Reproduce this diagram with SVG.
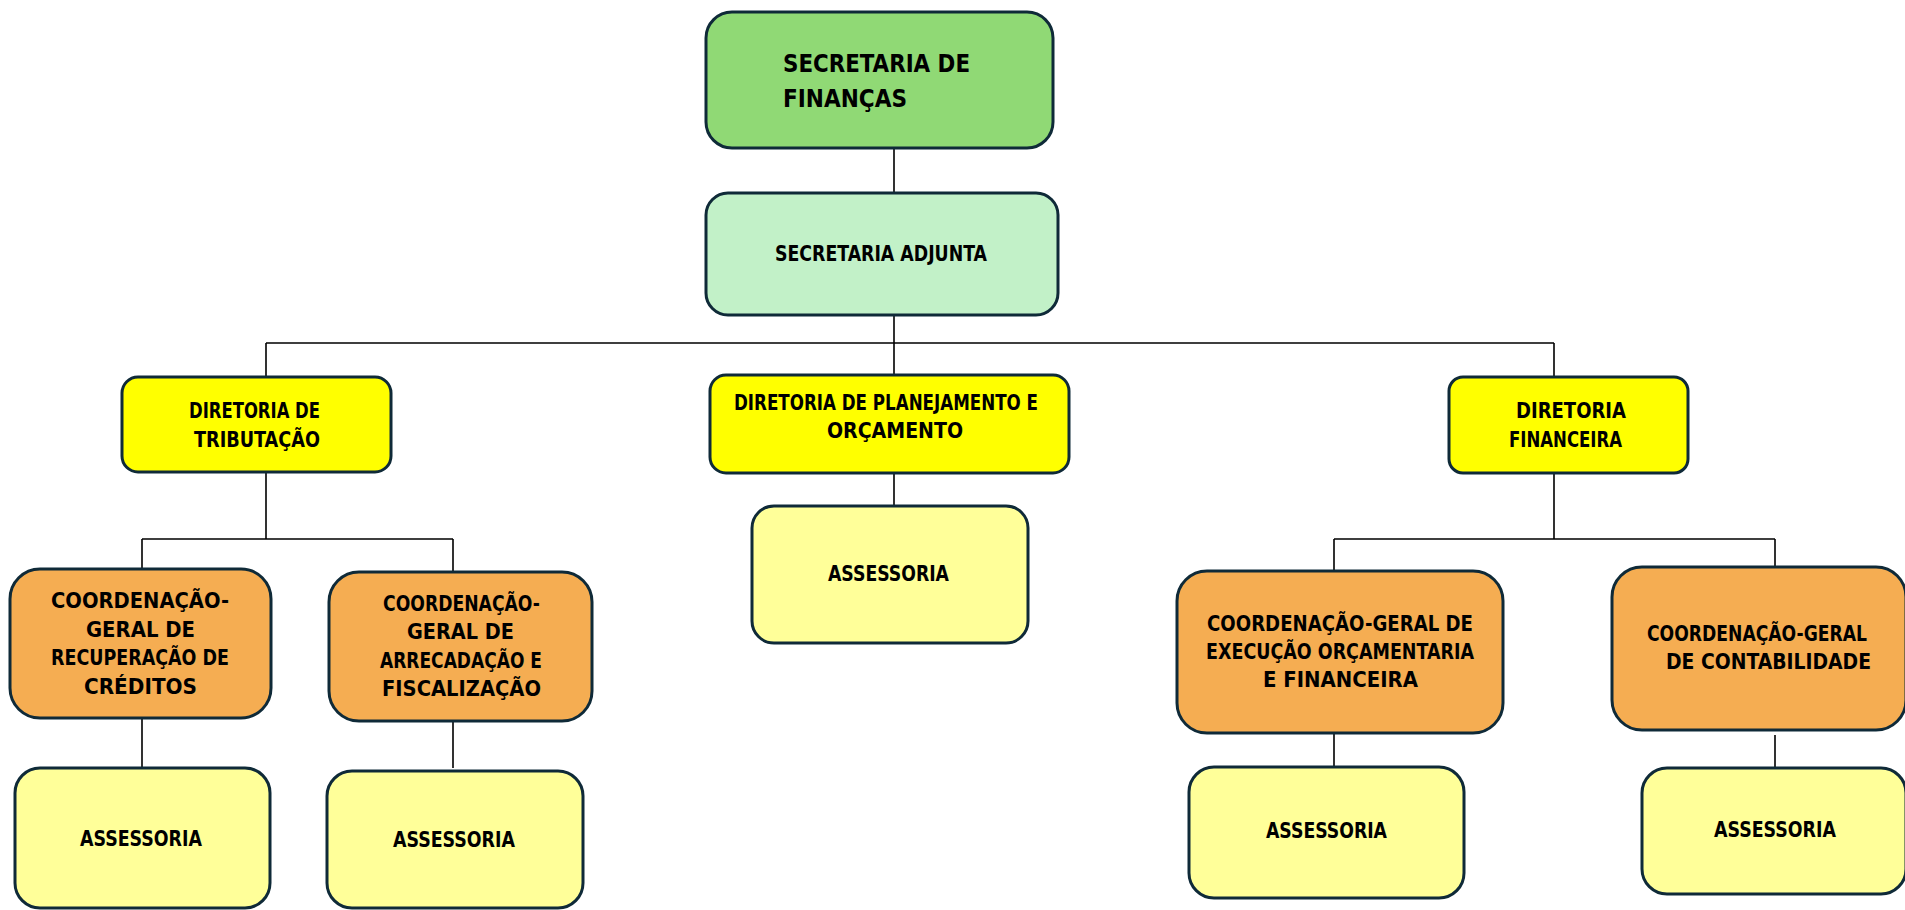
<svg xmlns="http://www.w3.org/2000/svg" width="1905" height="910" viewBox="0 0 1905 910">
<style>
.b{stroke:#0f2a38;stroke-width:3}
.g{fill:#90d975}.lg{fill:#c2f1c8}.y{fill:#ffff00}.o{fill:#f5ad52}.a{fill:#ffff99}
text{font-family:"DejaVu Sans Condensed","DejaVu Sans","Liberation Sans",sans-serif;font-weight:bold;font-size:22px;fill:#000}
.c{fill:none;stroke:#000;stroke-width:1.6}
</style>
<rect width="1905" height="910" fill="#fff"/>
<g id="connectors">
<path class="c" d="M894 148V193M894 315V375M266 343H1554M266 343V377M1554 343V377M266 472V539M142 539H453M142 539V569M453 539V572M142 718V768M453 721V768M894 473V506M1554 473V539M1334 539H1775M1334 539V571M1775 539V567M1334 733V767M1775 735V768"/>
</g>
<g id="secretaria-financas">
<rect class="b g" x="706" y="12" width="347" height="136" rx="26"/>
<text x="783" y="72" font-size="24" textLength="187" lengthAdjust="spacingAndGlyphs" style="font-size:24px">SECRETARIA DE</text>
<text x="783" y="107" textLength="124" lengthAdjust="spacingAndGlyphs" style="font-size:24px">FINANÇAS</text>
</g>
<g id="secretaria-adjunta">
<rect class="b lg" x="706" y="193" width="352" height="122" rx="22"/>
<text x="775" y="261" textLength="212" lengthAdjust="spacingAndGlyphs">SECRETARIA ADJUNTA</text>
</g>
<g id="diretoria-tributacao">
<rect class="b y" x="122" y="377" width="269" height="95" rx="16"/>
<text x="189" y="418" textLength="131" lengthAdjust="spacingAndGlyphs">DIRETORIA DE</text>
<text x="194" y="447" textLength="126" lengthAdjust="spacingAndGlyphs">TRIBUTAÇÃO</text>
</g>
<g id="diretoria-planejamento">
<rect class="b y" x="710" y="375" width="359" height="98" rx="16"/>
<text x="734" y="410" textLength="304" lengthAdjust="spacingAndGlyphs">DIRETORIA DE PLANEJAMENTO E</text>
<text x="827" y="438" textLength="136" lengthAdjust="spacingAndGlyphs">ORÇAMENTO</text>
</g>
<g id="diretoria-financeira">
<rect class="b y" x="1449" y="377" width="239" height="96" rx="14"/>
<text x="1516" y="418" textLength="110" lengthAdjust="spacingAndGlyphs">DIRETORIA</text>
<text x="1509" y="447" textLength="113" lengthAdjust="spacingAndGlyphs">FINANCEIRA</text>
</g>
<g id="assessoria-planejamento">
<rect class="b a" x="752" y="506" width="276" height="137" rx="22"/>
<text x="828" y="581" textLength="121" lengthAdjust="spacingAndGlyphs">ASSESSORIA</text>
</g>
<g id="cg-recuperacao">
<rect class="b o" x="10" y="569" width="261" height="149" rx="30"/>
<text x="51" y="608" textLength="178" lengthAdjust="spacingAndGlyphs">COORDENAÇÃO-</text>
<text x="86" y="637" textLength="109" lengthAdjust="spacingAndGlyphs">GERAL DE</text>
<text x="51" y="665" textLength="178" lengthAdjust="spacingAndGlyphs">RECUPERAÇÃO DE</text>
<text x="84" y="694" textLength="113" lengthAdjust="spacingAndGlyphs">CRÉDITOS</text>
</g>
<g id="cg-arrecadacao">
<rect class="b o" x="329" y="572" width="263" height="149" rx="30"/>
<text x="383" y="611" textLength="157" lengthAdjust="spacingAndGlyphs">COORDENAÇÃO-</text>
<text x="407" y="639" textLength="107" lengthAdjust="spacingAndGlyphs">GERAL DE</text>
<text x="380" y="668" textLength="162" lengthAdjust="spacingAndGlyphs">ARRECADAÇÃO E</text>
<text x="382" y="696" textLength="159" lengthAdjust="spacingAndGlyphs">FISCALIZAÇÃO</text>
</g>
<g id="assessoria-recuperacao">
<rect class="b a" x="15" y="768" width="255" height="140" rx="25"/>
<text x="80" y="846" textLength="122" lengthAdjust="spacingAndGlyphs">ASSESSORIA</text>
</g>
<g id="assessoria-arrecadacao">
<rect class="b a" x="327" y="771" width="256" height="137" rx="25"/>
<text x="393" y="847" textLength="122" lengthAdjust="spacingAndGlyphs">ASSESSORIA</text>
</g>
<g id="cg-execucao">
<rect class="b o" x="1177" y="571" width="326" height="162" rx="30"/>
<text x="1207" y="631" textLength="266" lengthAdjust="spacingAndGlyphs">COORDENAÇÃO-GERAL DE</text>
<text x="1206" y="659" textLength="268" lengthAdjust="spacingAndGlyphs">EXECUÇÃO ORÇAMENTARIA</text>
<text x="1263" y="687" textLength="155" lengthAdjust="spacingAndGlyphs">E FINANCEIRA</text>
</g>
<g id="cg-contabilidade">
<rect class="b o" x="1612" y="567" width="294" height="163" rx="30"/>
<text x="1647" y="641" textLength="220" lengthAdjust="spacingAndGlyphs">COORDENAÇÃO-GERAL</text>
<text x="1666" y="669" textLength="205" lengthAdjust="spacingAndGlyphs">DE CONTABILIDADE</text>
</g>
<g id="assessoria-execucao">
<rect class="b a" x="1189" y="767" width="275" height="131" rx="25"/>
<text x="1266" y="838" textLength="121" lengthAdjust="spacingAndGlyphs">ASSESSORIA</text>
</g>
<g id="assessoria-contabilidade">
<rect class="b a" x="1642" y="768" width="264" height="126" rx="25"/>
<text x="1714" y="837" textLength="122" lengthAdjust="spacingAndGlyphs">ASSESSORIA</text>
</g>
</svg>
